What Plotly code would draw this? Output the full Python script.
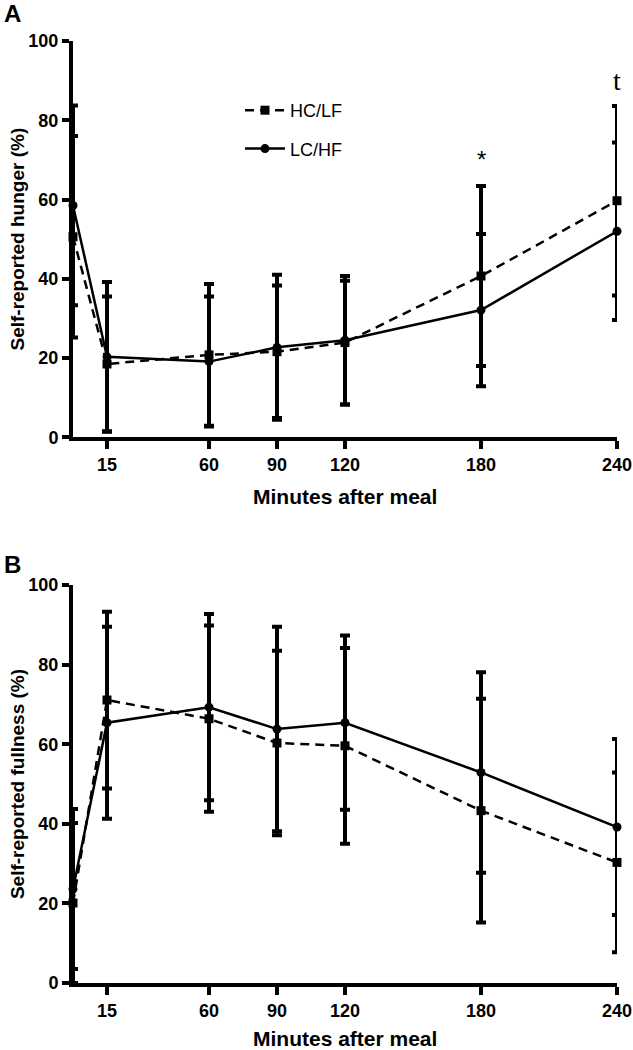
import plotly.graph_objects as go

# ---- data ----
minutes = [0, 15, 60, 90, 120, 180, 240]
tick_minutes = [15, 60, 90, 120, 180, 240]
y_ticks = [0, 20, 40, 60, 80, 100]

hunger_hclf = [50.6, 18.5, 20.8, 21.6, 23.9, 40.7, 59.7]
hunger_hclf_err = [25.4, 17.0, 17.9, 16.7, 15.6, 22.7, 23.9]
hunger_lchf = [58.5, 20.3, 19.1, 22.7, 24.5, 32.1, 52.0]
hunger_lchf_err = [25.2, 18.9, 16.4, 18.3, 16.2, 19.2, 22.4]

full_hclf = [20.1, 71.1, 66.4, 60.3, 59.6, 43.3, 30.3]
full_hclf_err = [20.1, 22.2, 23.4, 23.2, 24.6, 28.1, 22.6]
full_lchf = [23.6, 65.4, 69.3, 63.8, 65.4, 52.9, 39.2]
full_lchf_err = [20.1, 24.1, 23.4, 25.7, 21.9, 25.2, 22.1]

# ---- layout geometry (pixels) ----
W, H = 633, 1050
L, R = 73, 16
TOP, BOT = 41, 67
plot_h = H - TOP - BOT
A_bottom_px = 437.3
B_top_px = 585.0
domA = [(H - BOT - A_bottom_px) / plot_h, 1.0]
domB = [0.0, (H - BOT - B_top_px) / plot_h]

FONT = "Liberation Sans, Arial, sans-serif"
BLACK = "black"

def px_to_paper_x(px):
    return (px - L) / (W - L - R)

def px_to_paper_y(py):
    return (H - BOT - py) / plot_h

fig = go.Figure()

def add_series(x, y, err, name, dash, symbol, xa, ya, show):
    fig.add_trace(go.Scatter(
        x=x, y=y, name=name, mode="lines+markers",
        xaxis=xa, yaxis=ya, showlegend=show, legendgroup=name,
        line=dict(color=BLACK, width=2.5, dash=dash),
        marker=dict(symbol=symbol, size=9, color=BLACK),
        error_y=dict(type="data", array=err, visible=True,
                     color=BLACK, thickness=4, width=5),
        cliponaxis=False,
    ))

add_series(minutes, hunger_hclf, hunger_hclf_err, "HC/LF", "9px,6px", "square", "x", "y", True)
add_series(minutes, hunger_lchf, hunger_lchf_err, "LC/HF", "solid", "circle", "x", "y", True)
add_series(minutes, full_hclf, full_hclf_err, "HC/LF", "9px,6px", "square", "x2", "y2", False)
add_series(minutes, full_lchf, full_lchf_err, "LC/HF", "solid", "circle", "x2", "y2", False)

xaxis_common = dict(
    range=[0, 240], tickvals=tick_minutes, ticks="outside", ticklen=8,
    tickwidth=3.5, tickcolor=BLACK, showline=True, linewidth=4, linecolor=BLACK,
    showgrid=False, zeroline=False,
    tickfont=dict(family=FONT, size=18, color=BLACK, weight="bold"),
)
yaxis_common = dict(
    range=[0, 100], tickvals=y_ticks, ticks="outside", ticklen=7,
    tickwidth=3.5, tickcolor=BLACK, showline=True, linewidth=4, linecolor=BLACK,
    showgrid=False, zeroline=False,
    tickfont=dict(family=FONT, size=18, color=BLACK, weight="bold"),
)

ytitle_font = dict(family=FONT, size=19, color=BLACK, weight="bold")
fig.update_layout(
    width=W, height=H,
    margin=dict(l=L, r=R, t=TOP, b=BOT, autoexpand=False),
    paper_bgcolor="white", plot_bgcolor="white",
    xaxis=dict(**xaxis_common, anchor="y", domain=[0, 1]),
    yaxis=dict(**yaxis_common, anchor="x", domain=domA,
               title=dict(text="Self-reported hunger (%)", standoff=0, font=ytitle_font)),
    xaxis2=dict(**xaxis_common, anchor="y2", domain=[0, 1]),
    yaxis2=dict(**yaxis_common, anchor="x2", domain=domB,
                title=dict(text="Self-reported fullness (%)", standoff=0, font=ytitle_font)),
    legend=dict(x=px_to_paper_x(240), y=px_to_paper_y(92), xanchor="left", yanchor="top",
                bgcolor="rgba(0,0,0,0)", tracegroupgap=12, itemwidth=40,
                font=dict(family=FONT, size=18, color=BLACK)),
    showlegend=True,
)

def paper_text(text, px, py, font):
    fig.add_annotation(text=text, x=px_to_paper_x(px), y=px_to_paper_y(py),
                       xref="paper", yref="paper", xanchor="center", yanchor="middle",
                       showarrow=False, font=font)

title_font = dict(family=FONT, size=21, color=BLACK, weight="bold")
paper_text("Minutes after meal", 345, 496, title_font)
paper_text("Minutes after meal", 345, 1038, title_font)
paper_text("A", 12, 13, dict(family=FONT, size=24, color=BLACK, weight="bold"))
paper_text("B", 12, 564, dict(family=FONT, size=24, color=BLACK, weight="bold"))

fig.add_annotation(text="*", x=180, y=70, xref="x", yref="y", showarrow=False,
                   font=dict(family=FONT, size=24, color=BLACK))
fig.add_annotation(text="t", x=240, y=90, xref="x", yref="y", showarrow=False,
                   font=dict(family="Liberation Serif, Times New Roman, serif", size=28, color=BLACK))

fig.write_html(
    "out.html",
    config={"displayModeBar": False},
    post_script="document.body.style.margin='0';document.body.style.overflow='hidden';",
)
